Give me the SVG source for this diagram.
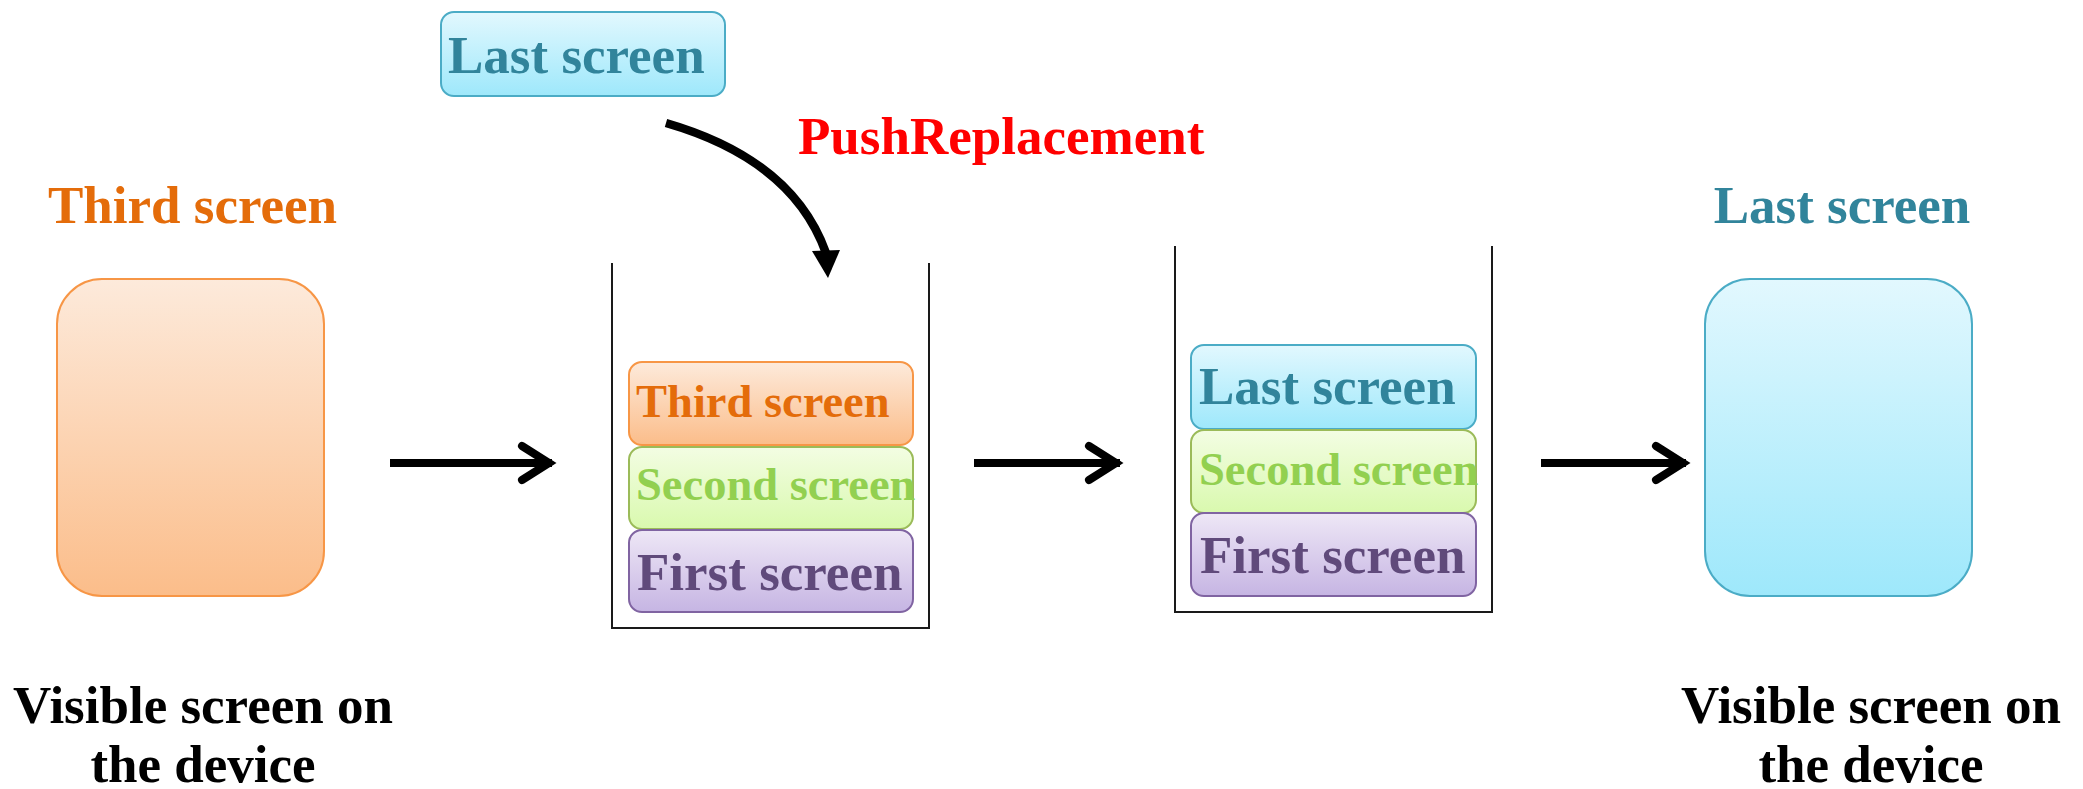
<svg xmlns="http://www.w3.org/2000/svg" width="2083" height="789" viewBox="0 0 2083 789">
<defs>
<linearGradient id="gOrange" x1="0" y1="0" x2="0" y2="1"><stop offset="0" stop-color="#FDEADB"/><stop offset="1" stop-color="#FBBD8A"/></linearGradient>
<linearGradient id="gBlue" x1="0" y1="0" x2="0" y2="1"><stop offset="0" stop-color="#E2F8FE"/><stop offset="1" stop-color="#9EE8FB"/></linearGradient>
<linearGradient id="gGreen" x1="0" y1="0" x2="0" y2="1"><stop offset="0" stop-color="#F3FDE3"/><stop offset="1" stop-color="#D9F9AE"/></linearGradient>
<linearGradient id="gPurple" x1="0" y1="0" x2="0" y2="1"><stop offset="0" stop-color="#EEE7F6"/><stop offset="1" stop-color="#C6B5E3"/></linearGradient>
<style>
text{font-family:"Liberation Serif","Times New Roman",serif;font-weight:bold}
.t51{font-size:53px}
.t46{font-size:46.5px}
.orange{fill:url(#gOrange);stroke:#F79646;stroke-width:2}
.blue{fill:url(#gBlue);stroke:#4BACC6;stroke-width:2}
.green{fill:url(#gGreen);stroke:#9BBB59;stroke-width:2}
.purple{fill:url(#gPurple);stroke:#8064A2;stroke-width:2}
.to{fill:#E46C0A}.tb{fill:#31849B}.tg{fill:#92D050}.tp{fill:#604A7B}.tk{fill:#000}.tr{fill:#FF0000}
.wall{fill:none;stroke:#1a1a1a;stroke-width:2}
.shaft{fill:none;stroke:#000;stroke-width:8}
.head{fill:none;stroke:#000;stroke-width:8;stroke-linecap:round;stroke-linejoin:miter}
</style>
</defs>
<rect width="2083" height="789" fill="#fff"/>

<g id="third-device">
<text class="t51 to" x="48" y="223">Third screen</text>
<rect class="orange" x="57" y="279" width="267" height="317" rx="45" ry="45"/>
<text class="t51 tk" x="203" y="723" text-anchor="middle">Visible screen on</text>
<text class="t51 tk" x="203" y="782" text-anchor="middle">the device</text>
</g>

<g id="last-incoming">
<rect class="blue" x="441" y="12" width="284" height="84" rx="13" ry="13"/>
<text class="t51 tb" x="448" y="73">Last screen</text>
</g>

<g id="push-label">
<text class="t51 tr" x="798" y="154">PushReplacement</text>
</g>

<g id="stack1">
<path class="wall" d="M612 263 V628 H929 V263"/>
<rect class="orange" x="629" y="362" width="284" height="83" rx="13" ry="13"/>
<text class="t46 to" x="636" y="417">Third screen</text>
<rect class="green" x="629" y="447" width="284" height="82" rx="13" ry="13"/>
<text class="t46 tg" x="636" y="500">Second screen</text>
<rect class="purple" x="629" y="530" width="284" height="82" rx="13" ry="13"/>
<text class="t51 tp" x="637" y="590">First screen</text>
</g>

<g id="stack2">
<path class="wall" d="M1175 246 V612 H1492 V246"/>
<rect class="blue" x="1191" y="345" width="285" height="84" rx="13" ry="13"/>
<text class="t51 tb" x="1199" y="404">Last screen</text>
<rect class="green" x="1191" y="430" width="285" height="83" rx="13" ry="13"/>
<text class="t46 tg" x="1199" y="485">Second screen</text>
<rect class="purple" x="1191" y="513" width="285" height="83" rx="13" ry="13"/>
<text class="t51 tp" x="1200" y="573">First screen</text>
</g>

<g id="last-device">
<text class="t51 tb" x="1842" y="223" text-anchor="middle">Last screen</text>
<rect class="blue" x="1705" y="279" width="267" height="317" rx="45" ry="45"/>
<text class="t51 tk" x="1871" y="723" text-anchor="middle">Visible screen on</text>
<text class="t51 tk" x="1871" y="782" text-anchor="middle">the device</text>
</g>

<g id="connectors">
<path class="shaft" d="M390 463 H552"/>
<path class="head" d="M522 446 L549 463 L522 480"/>
<path class="shaft" d="M974 463 H1120"/>
<path class="head" d="M1089 446 L1116 463 L1089 480"/>
<path class="shaft" d="M1541 463 H1686"/>
<path class="head" d="M1656 446 L1683 463 L1656 480"/>
<path d="M666 123 C735 143 800 180 826 253" fill="none" stroke="#000" stroke-width="8.5"/>
<polygon points="812,251 840,250 828,278" fill="#000"/>
</g>
</svg>
